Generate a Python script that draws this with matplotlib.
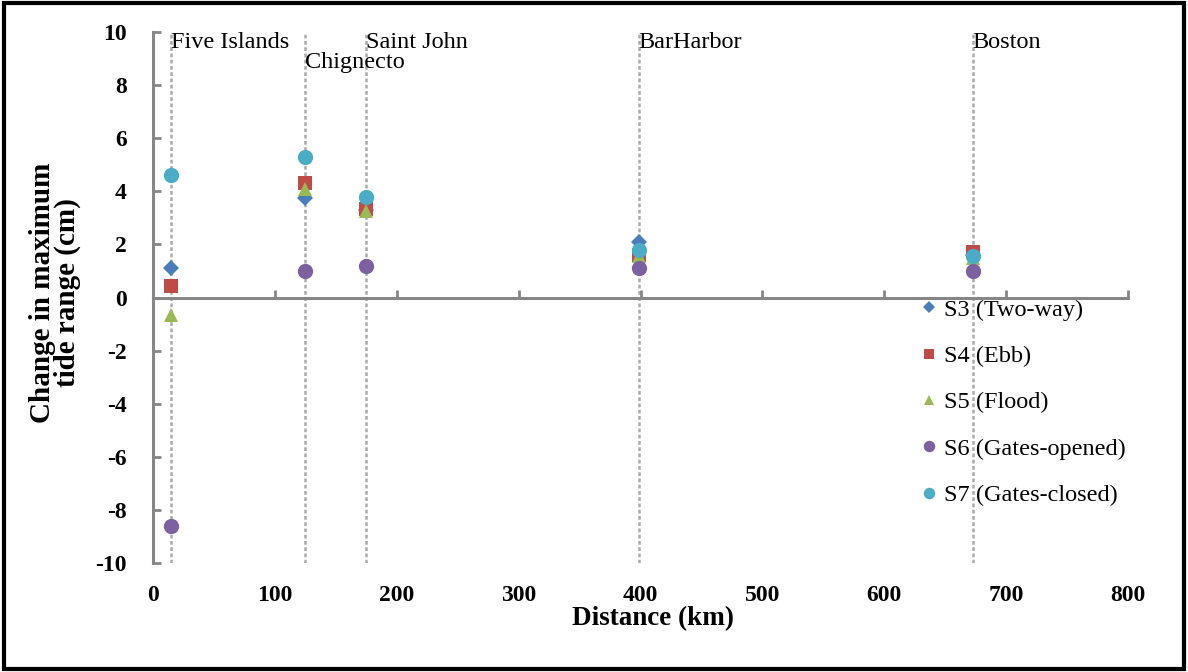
import matplotlib
matplotlib.use("Agg")
import matplotlib.pyplot as plt
from matplotlib.patches import Rectangle

# Station positions along the coast (km) and their names
stations = ["Five Islands", "Chignecto", "Saint John", "BarHarbor", "Boston"]
distance_km = [15, 125, 175, 399, 673]

# Change in maximum tide range (cm) per scenario at each station
s3_two_way = [1.1, 3.75, 3.3, 2.1, 1.6]
s4_ebb = [0.45, 4.3, 3.35, 1.6, 1.7]
s5_flood = [-0.65, 4.1, 3.25, 1.55, 1.5]
s6_gates_opened = [-8.6, 1.0, 1.2, 1.1, 1.0]
s7_gates_closed = [4.6, 5.3, 3.8, 1.8, 1.55]

series_labels = ["S3 (Two-way)", "S4 (Ebb)", "S5 (Flood)",
                 "S6 (Gates-opened)", "S7 (Gates-closed)"]

x_ticks = [0, 100, 200, 300, 400, 500, 600, 700, 800]
y_ticks = [-10, -8, -6, -4, -2, 0, 2, 4, 6, 8, 10]

serif = ["Liberation Serif", "DejaVu Serif"]
plt.rcParams["font.family"] = serif

fig = plt.figure(figsize=(11.88, 6.72), dpi=100)
ax = fig.add_axes([153 / 1188, 1 - 563 / 672, (1128 - 153) / 1188, (563 - 32) / 672])

ax.set_xlim(0, 800)
ax.set_ylim(-10, 10)

# Dotted station markers spanning the full height
for d in distance_km:
    ax.plot([d, d], [-10, 10], color="#aaaaaa", lw=1.8,
            linestyle=(0, (1.5, 1.0)), zorder=1)

styles = [
    ("D", "#4a7ebb", 8.5),
    ("s", "#be4b48", 10),
    ("^", "#98b954", 10.5),
    ("o", "#7d60a0", 11),
    ("o", "#4bacc6", 11),
]
series = [s3_two_way, s4_ebb, s5_flood, s6_gates_opened, s7_gates_closed]
for vals, lab, (mk, col, ms) in zip(series, series_labels, styles):
    ax.plot(distance_km, vals, linestyle="none", marker=mk, color=col,
            markersize=ms, markeredgewidth=0, label=lab, zorder=3)

# Station names near the top of each dotted line
label_y = {"Chignecto": 8.85}
for name, d in zip(stations, distance_km):
    ax.text(d - 0.5, label_y.get(name, 9.6), name, fontsize=17.5,
            ha="left", va="center", color="black", zorder=4)

# Axes: y-axis at x=0, x-axis crossing at y=0
spine_col = "#868686"
for side in ("top", "right"):
    ax.spines[side].set_visible(False)
ax.spines["left"].set_position(("data", 0))
ax.spines["bottom"].set_position(("data", 0))
ax.spines["left"].set_color(spine_col)
ax.spines["bottom"].set_color(spine_col)
ax.spines["left"].set_linewidth(2.2)
ax.spines["bottom"].set_linewidth(2.2)

ax.set_yticks(y_ticks)
ax.set_yticklabels([str(v) for v in y_ticks], fontsize=17, fontweight="bold")
ax.tick_params(axis="y", direction="in", length=6, width=2, color=spine_col, pad=19)

ax.set_xticks(x_ticks)
ax.tick_params(axis="x", direction="in", length=6, width=2, color=spine_col,
               labelbottom=False)

# Distance labels sit beneath the plotting area
sec = ax.secondary_xaxis(-0.0)
sec.set_xticks(x_ticks)
sec.set_xticklabels([str(v) for v in x_ticks], fontsize=17, fontweight="bold")
sec.tick_params(axis="x", length=0, pad=16)
sec.spines["bottom"].set_visible(False)

fig.text(653 / 1188, 1 - 619 / 672, "Distance (km)", fontsize=19.5,
         fontweight="bold", ha="center", va="center")
fig.text(55 / 1188, 1 - 293 / 672, "Change in maximum\ntide range (cm)",
         fontsize=21, fontweight="bold", ha="center", va="center",
         rotation=90, linespacing=0.9)

leg = ax.legend(loc="upper left", bbox_to_anchor=(912 / 1188, 1 - 289 / 672),
                bbox_transform=fig.transFigure, frameon=False, fontsize=17.5,
                markerscale=0.75, handlelength=0.6, handletextpad=0.3,
                labelspacing=1.0, borderaxespad=0)

# Outer frame around the whole figure
fig.patches.append(Rectangle((0.003, 0.005), 0.994, 0.99, transform=fig.transFigure,
                             fill=False, edgecolor="black", linewidth=3))

fig.savefig("out.png", dpi=100)
